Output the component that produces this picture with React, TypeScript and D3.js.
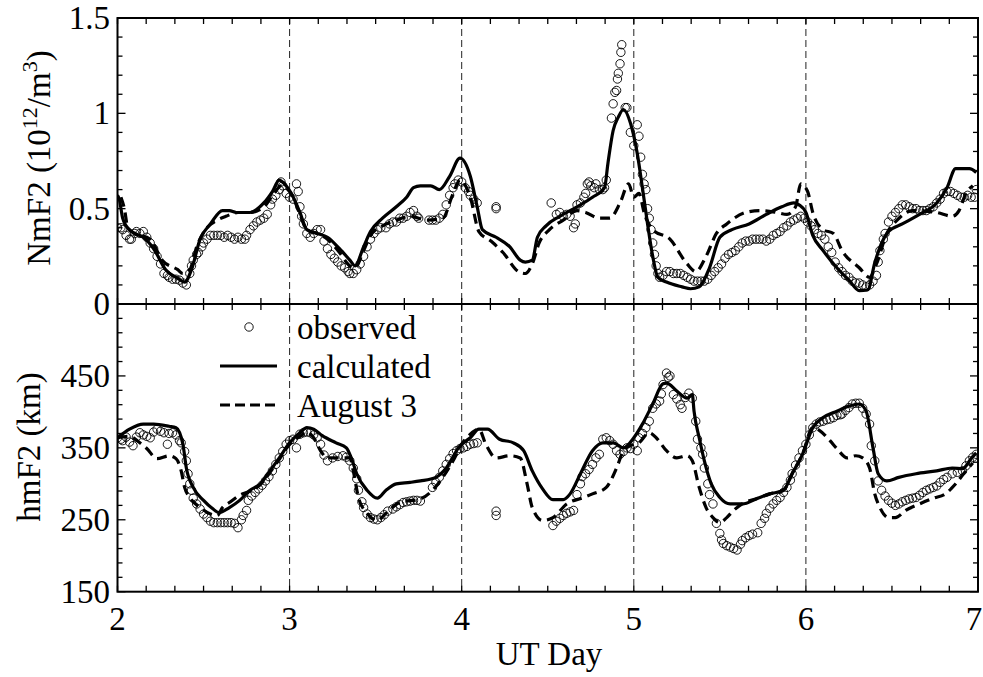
import React, { useRef, useEffect } from "react";
import * as d3 from "d3";

// [UT day, NmF2 in 10^12/m^3]
const nmObserved: [number, number][] = [
  [2.0, 0.4], [2.02, 0.4], [2.03, 0.39], [2.05, 0.36], [2.07, 0.34], [2.08, 0.34], [2.1, 0.37], [2.11, 0.38],
  [2.13, 0.37], [2.15, 0.38], [2.17, 0.35], [2.19, 0.32], [2.21, 0.29], [2.23, 0.25], [2.25, 0.21], [2.27, 0.16],
  [2.29, 0.15], [2.3, 0.14], [2.32, 0.13], [2.34, 0.13], [2.36, 0.125], [2.38, 0.11], [2.4, 0.1], [2.42, 0.16],
  [2.43, 0.2], [2.44, 0.23], [2.46, 0.26], [2.47, 0.27], [2.49, 0.3], [2.5, 0.32], [2.52, 0.34], [2.54, 0.36],
  [2.56, 0.36], [2.58, 0.36], [2.6, 0.36], [2.62, 0.35], [2.64, 0.36], [2.66, 0.35], [2.68, 0.34], [2.7, 0.35],
  [2.72, 0.34], [2.74, 0.34], [2.75, 0.36], [2.77, 0.39], [2.79, 0.41], [2.81, 0.43], [2.83, 0.44], [2.85, 0.45],
  [2.87, 0.47], [2.89, 0.52], [2.9, 0.55], [2.92, 0.57], [2.94, 0.6], [2.95, 0.64], [2.96, 0.62], [2.98, 0.58],
  [3.0, 0.56], [3.02, 0.55], [3.04, 0.63], [3.05, 0.59], [3.06, 0.51], [3.07, 0.46], [3.08, 0.42], [3.1, 0.37],
  [3.12, 0.35], [3.14, 0.37], [3.16, 0.39], [3.18, 0.39], [3.2, 0.33], [3.22, 0.29], [3.24, 0.26], [3.26, 0.24],
  [3.28, 0.22], [3.3, 0.2], [3.32, 0.19], [3.34, 0.17], [3.35, 0.16], [3.37, 0.16], [3.39, 0.18], [3.41, 0.21],
  [3.43, 0.25], [3.45, 0.3], [3.47, 0.34], [3.49, 0.37], [3.51, 0.39], [3.53, 0.4], [3.56, 0.4], [3.58, 0.42],
  [3.6, 0.43], [3.62, 0.43], [3.64, 0.45], [3.66, 0.45], [3.68, 0.46], [3.7, 0.48], [3.72, 0.49], [3.74, 0.46],
  [3.75, 0.45], [3.81, 0.44], [3.83, 0.44], [3.85, 0.44], [3.87, 0.45], [3.89, 0.47], [3.91, 0.52], [3.93, 0.57],
  [3.95, 0.61], [3.96, 0.63], [3.98, 0.65], [4.0, 0.64], [4.02, 0.61], [4.04, 0.59], [4.05, 0.57], [4.07, 0.55],
  [4.09, 0.53], [4.2, 0.51], [4.2, 0.5], [4.52, 0.53], [4.55, 0.47], [4.57, 0.48], [4.59, 0.46], [4.61, 0.47],
  [4.63, 0.46], [4.65, 0.4], [4.66, 0.42], [4.67, 0.52], [4.69, 0.53], [4.71, 0.56], [4.72, 0.58], [4.73, 0.63],
  [4.74, 0.64], [4.75, 0.62], [4.77, 0.61], [4.78, 0.63], [4.8, 0.6], [4.82, 0.6], [4.83, 0.61], [4.84, 0.65],
  [4.87, 0.975], [4.88, 1.05], [4.89, 1.11], [4.9, 1.12], [4.905, 1.18], [4.91, 1.21], [4.92, 1.26], [4.925, 1.32],
  [4.93, 1.36], [4.95, 1.03], [4.96, 1.03], [4.98, 0.9], [5.0, 0.83], [5.02, 0.94], [5.03, 0.88], [5.04, 0.77],
  [5.05, 0.68], [5.06, 0.63], [5.07, 0.6], [5.08, 0.5], [5.09, 0.45], [5.1, 0.39], [5.11, 0.32], [5.12, 0.26],
  [5.13, 0.2], [5.14, 0.16], [5.15, 0.14], [5.17, 0.15], [5.19, 0.17], [5.21, 0.17], [5.23, 0.16], [5.25, 0.16],
  [5.27, 0.16], [5.29, 0.15], [5.31, 0.14], [5.33, 0.13], [5.35, 0.12], [5.37, 0.12], [5.39, 0.12], [5.41, 0.12],
  [5.43, 0.13], [5.45, 0.15], [5.47, 0.17], [5.49, 0.19], [5.51, 0.21], [5.53, 0.24], [5.55, 0.26], [5.57, 0.27],
  [5.59, 0.28], [5.61, 0.3], [5.63, 0.32], [5.65, 0.33], [5.67, 0.33], [5.69, 0.34], [5.71, 0.34], [5.73, 0.34],
  [5.75, 0.34], [5.77, 0.33], [5.79, 0.34], [5.81, 0.36], [5.83, 0.37], [5.85, 0.38], [5.87, 0.4], [5.89, 0.41],
  [5.91, 0.43], [5.93, 0.44], [5.95, 0.45], [5.97, 0.46], [5.99, 0.45], [6.01, 0.43], [6.03, 0.41], [6.05, 0.39],
  [6.07, 0.37], [6.09, 0.36], [6.11, 0.34], [6.13, 0.3], [6.15, 0.27], [6.17, 0.22], [6.19, 0.19], [6.21, 0.17],
  [6.23, 0.15], [6.25, 0.14], [6.27, 0.12], [6.29, 0.11], [6.31, 0.11], [6.33, 0.1], [6.35, 0.09], [6.37, 0.1],
  [6.39, 0.12], [6.41, 0.15], [6.42, 0.22], [6.43, 0.28], [6.45, 0.34], [6.46, 0.37], [6.48, 0.43], [6.5, 0.46],
  [6.52, 0.48], [6.54, 0.5], [6.56, 0.52], [6.58, 0.52], [6.6, 0.51], [6.62, 0.5], [6.64, 0.5], [6.66, 0.49],
  [6.68, 0.49], [6.7, 0.49], [6.72, 0.5], [6.74, 0.51], [6.76, 0.53], [6.78, 0.55], [6.8, 0.58], [6.82, 0.59],
  [6.84, 0.59], [6.86, 0.58], [6.88, 0.57], [6.9, 0.56], [6.92, 0.56], [6.94, 0.57], [6.96, 0.56], [6.98, 0.56],
  [6.99, 0.6],
];

const nmCalculated: [number, number][] = [
  [2.0, 0.57], [2.01, 0.55], [2.03, 0.45], [2.05, 0.41], [2.1, 0.37], [2.15, 0.35], [2.21, 0.29], [2.28, 0.18],
  [2.35, 0.135], [2.39, 0.115], [2.43, 0.18], [2.48, 0.34], [2.54, 0.42], [2.61, 0.49], [2.65, 0.49], [2.69, 0.48],
  [2.77, 0.48], [2.85, 0.53], [2.9, 0.59], [2.94, 0.65], [2.97, 0.63], [3.01, 0.58], [3.06, 0.48], [3.1, 0.39],
  [3.16, 0.37], [3.22, 0.35], [3.29, 0.29], [3.35, 0.23], [3.38, 0.2], [3.43, 0.3], [3.47, 0.38], [3.54, 0.45],
  [3.62, 0.51], [3.68, 0.56], [3.72, 0.61], [3.76, 0.62], [3.82, 0.62], [3.87, 0.6], [3.93, 0.67], [3.99, 0.765],
  [4.05, 0.67], [4.09, 0.51], [4.12, 0.39], [4.2, 0.35], [4.28, 0.3], [4.34, 0.23], [4.37, 0.22], [4.41, 0.23],
  [4.44, 0.35], [4.49, 0.41], [4.57, 0.46], [4.67, 0.51], [4.76, 0.56], [4.83, 0.61], [4.85, 0.74], [4.88, 0.91],
  [4.91, 0.98], [4.94, 1.02], [4.98, 0.95], [5.02, 0.79], [5.05, 0.61], [5.08, 0.42], [5.11, 0.25], [5.14, 0.14],
  [5.19, 0.115], [5.28, 0.09], [5.33, 0.08], [5.38, 0.09], [5.44, 0.19], [5.5, 0.35], [5.57, 0.39], [5.67, 0.42],
  [5.77, 0.47], [5.86, 0.51], [5.93, 0.53], [5.96, 0.52], [6.0, 0.48], [6.04, 0.36], [6.1, 0.28], [6.18, 0.19],
  [6.25, 0.125], [6.31, 0.07], [6.36, 0.075], [6.4, 0.215], [6.44, 0.32], [6.48, 0.38], [6.56, 0.42], [6.66, 0.47],
  [6.76, 0.53], [6.82, 0.61], [6.87, 0.71], [6.95, 0.71], [6.99, 0.69],
];

const nmAugust3: [number, number][] = [
  [2.02, 0.56], [2.04, 0.5], [2.06, 0.4], [2.1, 0.37], [2.19, 0.34], [2.26, 0.23], [2.35, 0.18], [2.38, 0.16],
  [2.42, 0.18], [2.46, 0.3], [2.52, 0.4], [2.58, 0.44], [2.63, 0.46], [2.7, 0.48], [2.77, 0.48], [2.85, 0.51],
  [2.91, 0.58], [2.95, 0.62], [3.02, 0.56], [3.06, 0.47], [3.1, 0.39], [3.16, 0.37], [3.22, 0.34], [3.29, 0.27],
  [3.35, 0.2], [3.38, 0.19], [3.43, 0.28], [3.47, 0.36], [3.54, 0.41], [3.62, 0.44], [3.7, 0.46], [3.8, 0.44],
  [3.89, 0.45], [3.95, 0.58], [3.99, 0.65], [4.05, 0.56], [4.1, 0.38], [4.17, 0.33], [4.24, 0.27], [4.33, 0.17],
  [4.37, 0.16], [4.41, 0.21], [4.45, 0.32], [4.51, 0.39], [4.59, 0.44], [4.67, 0.49], [4.72, 0.48], [4.8, 0.45],
  [4.86, 0.45], [4.92, 0.53], [4.97, 0.63], [5.0, 0.56], [5.03, 0.58], [5.06, 0.48], [5.11, 0.39], [5.21, 0.34],
  [5.31, 0.21], [5.36, 0.17], [5.42, 0.25], [5.48, 0.37], [5.54, 0.42], [5.65, 0.48], [5.73, 0.49], [5.83, 0.48],
  [5.89, 0.47], [5.94, 0.51], [5.97, 0.63], [6.01, 0.59], [6.04, 0.48], [6.1, 0.39], [6.16, 0.37], [6.21, 0.28],
  [6.31, 0.19], [6.37, 0.14], [6.41, 0.21], [6.47, 0.37], [6.53, 0.44], [6.62, 0.49], [6.76, 0.48], [6.85, 0.46],
  [6.89, 0.49], [6.93, 0.58], [6.97, 0.62],
];

// [UT day, hmF2 in km]
const hmObserved: [number, number][] = [
  [2.0, 364], [2.02, 362], [2.03, 360], [2.05, 365], [2.07, 358], [2.09, 353], [2.11, 365], [2.13, 371],
  [2.15, 368], [2.17, 366], [2.19, 364], [2.21, 372], [2.23, 376], [2.25, 373], [2.27, 371], [2.29, 355],
  [2.3, 370], [2.32, 371], [2.34, 368], [2.36, 360], [2.37, 357], [2.39, 345], [2.4, 332], [2.41, 314],
  [2.42, 300], [2.43, 291], [2.44, 280], [2.46, 272], [2.48, 265], [2.5, 258], [2.52, 253], [2.54, 248],
  [2.56, 246], [2.58, 246], [2.6, 246], [2.62, 246], [2.64, 246], [2.66, 246], [2.68, 245], [2.7, 239],
  [2.72, 250], [2.73, 256], [2.75, 263], [2.76, 277], [2.78, 283], [2.8, 288], [2.82, 293], [2.84, 298],
  [2.86, 304], [2.88, 310], [2.9, 318], [2.92, 327], [2.94, 336], [2.96, 345], [2.98, 355], [3.0, 360],
  [3.02, 362], [3.04, 350], [3.06, 369], [3.08, 371], [3.1, 372], [3.12, 371], [3.14, 368], [3.16, 364],
  [3.18, 355], [3.2, 340], [3.22, 332], [3.25, 336], [3.28, 338], [3.31, 339], [3.33, 337], [3.35, 332],
  [3.37, 322], [3.39, 307], [3.4, 291], [3.42, 275], [3.43, 267], [3.45, 258], [3.47, 253], [3.49, 251],
  [3.51, 250], [3.53, 253], [3.55, 257], [3.57, 262], [3.6, 265], [3.62, 268], [3.64, 271], [3.66, 274],
  [3.68, 275], [3.7, 276], [3.72, 277], [3.74, 277], [3.76, 276], [3.83, 295], [3.85, 302], [3.87, 309],
  [3.89, 318], [3.91, 327], [3.93, 335], [3.95, 342], [3.97, 346], [3.99, 349], [4.01, 350], [4.03, 352],
  [4.05, 355], [4.07, 356], [4.09, 357], [4.2, 262], [4.2, 256], [4.53, 242], [4.55, 248], [4.57, 252],
  [4.59, 256], [4.61, 259], [4.63, 261], [4.65, 263], [4.67, 285], [4.69, 300], [4.7, 310], [4.72, 314],
  [4.74, 320], [4.76, 327], [4.78, 336], [4.8, 341], [4.82, 362], [4.84, 364], [4.86, 360], [4.88, 355],
  [4.9, 346], [4.92, 341], [4.94, 345], [4.96, 350], [4.98, 349], [5.0, 355], [5.02, 346], [5.03, 364],
  [5.05, 370], [5.07, 378], [5.09, 387], [5.11, 405], [5.13, 411], [5.15, 415], [5.16, 425], [5.17, 438],
  [5.19, 454], [5.2, 448], [5.21, 450], [5.23, 424], [5.25, 418], [5.27, 410], [5.28, 405], [5.3, 420],
  [5.32, 426], [5.34, 419], [5.36, 387], [5.37, 362], [5.39, 350], [5.4, 341], [5.41, 322], [5.43, 300],
  [5.44, 285], [5.46, 272], [5.48, 245], [5.5, 231], [5.51, 222], [5.52, 217], [5.54, 214], [5.56, 212],
  [5.58, 210], [5.6, 208], [5.62, 216], [5.63, 221], [5.65, 225], [5.67, 228], [5.69, 230], [5.72, 232],
  [5.74, 245], [5.76, 252], [5.77, 259], [5.79, 266], [5.81, 272], [5.83, 277], [5.85, 281], [5.87, 288],
  [5.89, 295], [5.91, 305], [5.92, 314], [5.94, 326], [5.96, 336], [5.98, 346], [6.0, 355], [6.02, 368],
  [6.04, 378], [6.06, 383], [6.08, 386], [6.1, 387], [6.12, 389], [6.14, 390], [6.16, 392], [6.18, 395],
  [6.2, 396], [6.21, 397], [6.23, 402], [6.25, 406], [6.27, 411], [6.29, 412], [6.31, 412], [6.33, 405],
  [6.35, 397], [6.37, 383], [6.38, 353], [6.4, 332], [6.42, 304], [6.44, 291], [6.46, 283], [6.48, 277],
  [6.5, 273], [6.52, 270], [6.54, 272], [6.56, 275], [6.58, 277], [6.6, 279], [6.62, 280], [6.64, 281],
  [6.66, 284], [6.68, 288], [6.7, 291], [6.72, 293], [6.74, 295], [6.76, 297], [6.78, 302], [6.8, 306],
  [6.82, 309], [6.85, 314], [6.88, 316], [6.91, 318], [6.93, 325], [6.95, 332], [6.97, 337], [6.99, 341],
];

const hmCalculated: [number, number][] = [
  [2.0, 364], [2.07, 376], [2.15, 383], [2.21, 383], [2.3, 380], [2.34, 378], [2.38, 355], [2.4, 322],
  [2.44, 295], [2.5, 277], [2.55, 266], [2.59, 260], [2.65, 267], [2.71, 277], [2.77, 291], [2.83, 300],
  [2.88, 316], [2.94, 336], [3.0, 357], [3.06, 371], [3.1, 378], [3.14, 376], [3.19, 367], [3.27, 357],
  [3.33, 350], [3.36, 335], [3.39, 314], [3.45, 291], [3.51, 280], [3.56, 291], [3.62, 300], [3.7, 302],
  [3.76, 304], [3.85, 309], [3.91, 322], [3.99, 353], [4.05, 364], [4.1, 376], [4.15, 376], [4.22, 362],
  [4.3, 357], [4.36, 346], [4.41, 318], [4.47, 293], [4.53, 278], [4.59, 278], [4.63, 286], [4.69, 314],
  [4.76, 346], [4.82, 357], [4.88, 357], [4.94, 350], [5.0, 364], [5.05, 383], [5.11, 411], [5.17, 439],
  [5.19, 440], [5.25, 429], [5.31, 419], [5.34, 424], [5.35, 401], [5.38, 364], [5.41, 332], [5.45, 300],
  [5.5, 281], [5.56, 272], [5.63, 272], [5.72, 280], [5.79, 286], [5.87, 291], [5.92, 314], [5.98, 341],
  [6.04, 378], [6.1, 392], [6.18, 401], [6.25, 408], [6.31, 411], [6.35, 401], [6.39, 350], [6.42, 314],
  [6.47, 304], [6.54, 309], [6.64, 314], [6.76, 318], [6.85, 322], [6.91, 321], [6.96, 335], [6.99, 343],
];

const hmAugust3: [number, number][] = [
  [2.0, 364], [2.07, 366], [2.13, 357], [2.17, 349], [2.23, 335], [2.3, 339], [2.34, 335], [2.37, 318],
  [2.39, 295], [2.42, 281], [2.48, 267], [2.54, 258], [2.58, 256], [2.61, 267], [2.65, 274], [2.71, 284],
  [2.77, 290], [2.83, 299], [2.88, 314], [2.94, 334], [3.0, 355], [3.06, 366], [3.1, 372], [3.14, 364],
  [3.18, 346], [3.22, 336], [3.35, 336], [3.37, 318], [3.4, 281], [3.45, 259], [3.51, 249], [3.56, 259],
  [3.64, 274], [3.76, 279], [3.83, 291], [3.89, 309], [3.95, 332], [4.0, 355], [4.05, 369], [4.1, 376],
  [4.14, 355], [4.2, 336], [4.28, 339], [4.34, 336], [4.38, 300], [4.41, 267], [4.47, 249], [4.53, 253],
  [4.61, 272], [4.71, 281], [4.76, 286], [4.84, 295], [4.9, 322], [4.94, 346], [4.98, 353], [5.03, 357],
  [5.09, 371], [5.13, 364], [5.19, 346], [5.25, 336], [5.31, 339], [5.34, 332], [5.38, 295], [5.42, 267],
  [5.46, 253], [5.5, 246], [5.54, 253], [5.58, 263], [5.63, 272], [5.72, 280], [5.79, 286], [5.87, 291],
  [5.92, 314], [5.98, 341], [6.04, 378], [6.08, 374], [6.14, 360], [6.18, 349], [6.24, 336], [6.29, 339],
  [6.33, 336], [6.37, 322], [6.4, 286], [6.43, 267], [6.48, 253], [6.52, 253], [6.58, 263], [6.66, 272],
  [6.74, 280], [6.81, 286], [6.87, 300], [6.93, 318], [6.97, 329],
];

const dayTicks = [2, 3, 4, 5, 6, 7];
const nmTicks = [0, 0.5, 1, 1.5];
const hmTicks = [150, 250, 350, 450];
const legendLabels = ["observed", "calculated", "August 3"];

const FONT = '"Liberation Serif", "Times New Roman", Times, "DejaVu Serif", serif';

const App = () => {
  const svgRef = useRef<SVGSVGElement>(null);

  useEffect(() => {
    const svg = d3.select(svgRef.current);
    svg.selectAll("*").remove();

    const left = 117.5, right = 978, top = 18, mid = 304, bottom = 591.7;

    // scales
    const x = d3.scaleLinear().domain([2, 7]).range([left, right]);
    const yTop = d3.scaleLinear().domain([0, 1.5]).range([mid, top]);
    const yBot = d3.scaleLinear().domain([150, 550]).range([bottom, mid]);

    svg.append("rect").attr("width", 983).attr("height", 677).attr("fill", "#fff");

    const defs = svg.append("defs");
    defs.append("clipPath").attr("id", "clipTop").append("rect")
      .attr("x", left).attr("y", top).attr("width", right - left).attr("height", mid - top);
    defs.append("clipPath").attr("id", "clipBot").append("rect")
      .attr("x", left).attr("y", mid).attr("width", right - left).attr("height", bottom - mid);

    // day separators
    svg.append("g").selectAll("line")
      .data(dayTicks.slice(1, -1))
      .join("line")
      .attr("x1", (d) => x(d)).attr("x2", (d) => x(d))
      .attr("y1", top).attr("y2", bottom)
      .attr("stroke", "#222").attr("stroke-width", 1)
      .attr("stroke-dasharray", "7,4");

    const panels = [
      { y: yTop, clip: "clipTop", obs: nmObserved, calc: nmCalculated, aug: nmAugust3 },
      { y: yBot, clip: "clipBot", obs: hmObserved, calc: hmCalculated, aug: hmAugust3 },
    ];

    panels.forEach((p) => {
      const g = svg.append("g").attr("clip-path", `url(#${p.clip})`);
      g.selectAll("circle")
        .data(p.obs)
        .join("circle")
        .attr("cx", (d) => x(d[0]))
        .attr("cy", (d) => p.y(d[1]))
        .attr("r", 4.2)
        .attr("fill", "none")
        .attr("stroke", "#000")
        .attr("stroke-width", 0.9);

      const line = d3.line<[number, number]>()
        .x((d) => x(d[0]))
        .y((d) => p.y(d[1]))
        .curve(d3.curveMonotoneX);

      g.append("path").datum(p.calc)
        .attr("d", line).attr("fill", "none")
        .attr("stroke", "#000").attr("stroke-width", 3.2)
        .attr("stroke-linejoin", "round");
      g.append("path").datum(p.aug)
        .attr("d", line).attr("fill", "none")
        .attr("stroke", "#000").attr("stroke-width", 3.2)
        .attr("stroke-dasharray", "10,6");
    });

    // ticks, every 4 h on x
    const ticks = svg.append("g").attr("stroke", "#000").attr("stroke-width", 1.3);
    const minorDays = d3.range(0, 31).map((i) => 2 + i / 6);
    minorDays.forEach((d) => {
      const len = 6;
      ticks.append("line").attr("x1", x(d)).attr("x2", x(d)).attr("y1", top).attr("y2", top + len);
      ticks.append("line").attr("x1", x(d)).attr("x2", x(d)).attr("y1", mid - len).attr("y2", mid + len);
      ticks.append("line").attr("x1", x(d)).attr("x2", x(d)).attr("y1", bottom).attr("y2", bottom - len);
    });
    d3.range(0, 16).forEach((i) => {
      const v = i / 10;
      const len = i % 5 === 0 ? 8 : 5;
      ticks.append("line").attr("x1", left).attr("x2", left + len).attr("y1", yTop(v)).attr("y2", yTop(v));
      ticks.append("line").attr("x1", right).attr("x2", right - len).attr("y1", yTop(v)).attr("y2", yTop(v));
    });
    d3.range(0, 21).forEach((i) => {
      const v = 150 + i * 20;
      const len = i % 5 === 0 ? 8 : 5;
      ticks.append("line").attr("x1", left).attr("x2", left + len).attr("y1", yBot(v)).attr("y2", yBot(v));
      ticks.append("line").attr("x1", right).attr("x2", right - len).attr("y1", yBot(v)).attr("y2", yBot(v));
    });

    // frame
    const frame = svg.append("g").attr("stroke", "#000").attr("stroke-width", 2).attr("fill", "none");
    frame.append("rect").attr("x", left).attr("y", top).attr("width", right - left).attr("height", bottom - top);
    frame.append("line").attr("x1", left).attr("x2", right).attr("y1", mid).attr("y2", mid);

    // tick labels
    const txt = svg.append("g").style("font-family", FONT).style("font-size", "33px").attr("fill", "#000");
    txt.selectAll(".ny").data(nmTicks).join("text")
      .attr("x", 110).attr("y", (d) => yTop(d))
      .attr("dy", "0.33em").attr("text-anchor", "end")
      .text((d) => String(d));
    txt.selectAll(".hy").data(hmTicks).join("text")
      .attr("x", 110).attr("y", (d) => yBot(d))
      .attr("dy", "0.33em").attr("text-anchor", "end")
      .text((d) => String(d));
    txt.selectAll(".dx").data(dayTicks).join("text")
      .attr("x", (d) => Math.min(x(d), 974)).attr("y", 630)
      .attr("text-anchor", "middle")
      .text((d) => String(d));

    txt.append("text").attr("x", 549).attr("y", 665).attr("text-anchor", "middle").text("UT Day");

    const nmLabel = txt.append("text")
      .attr("transform", "translate(50,158) rotate(-90)")
      .attr("text-anchor", "middle");
    nmLabel.append("tspan").text("NmF2 (10");
    nmLabel.append("tspan").attr("dy", -13).style("font-size", "22px").text("12");
    nmLabel.append("tspan").attr("dy", 13).text("/m");
    nmLabel.append("tspan").attr("dy", -13).style("font-size", "22px").text("3");
    nmLabel.append("tspan").attr("dy", 13).text(")");

    txt.append("text")
      .attr("transform", "translate(40,447) rotate(-90)")
      .attr("text-anchor", "middle")
      .text("hmF2 (km)");

    // legend
    const legend = svg.append("g");
    const rows = [327, 366, 405];
    legend.append("circle").attr("cx", 249).attr("cy", rows[0]).attr("r", 4.2)
      .attr("fill", "none").attr("stroke", "#000").attr("stroke-width", 0.9);
    legend.append("line").attr("x1", 220).attr("x2", 277).attr("y1", rows[1]).attr("y2", rows[1])
      .attr("stroke", "#000").attr("stroke-width", 3.2);
    legend.append("line").attr("x1", 220).attr("x2", 277).attr("y1", rows[2]).attr("y2", rows[2])
      .attr("stroke", "#000").attr("stroke-width", 3.2).attr("stroke-dasharray", "10,5");
    legend.selectAll("text").data(legendLabels).join("text")
      .attr("x", 297).attr("y", (d, i) => rows[i] + 12)
      .style("font-family", FONT).style("font-size", "33px")
      .text((d) => d);
  }, []);

  return (
    <svg
      ref={svgRef}
      width={983}
      height={677}
      style={{ position: "absolute", left: 0, top: 0, display: "block" }}
    />
  );
};

export default App;
